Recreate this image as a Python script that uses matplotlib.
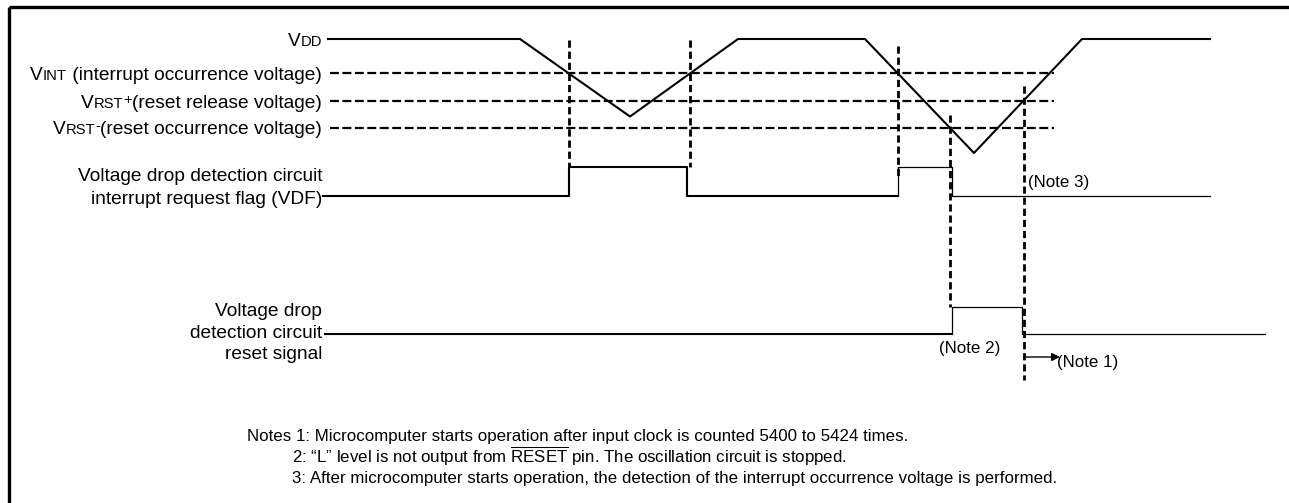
import numpy as np
import matplotlib
matplotlib.use('Agg')
import matplotlib.pyplot as plt

plt.rcParams['font.family'] = ['Liberation Sans', 'DejaVu Sans']
plt.rcParams['mathtext.fontset'] = 'custom'
plt.rcParams['mathtext.rm'] = 'Liberation Sans'

# supply voltage (V) against time (arbitrary ticks)
vdd_t = [328, 520, 630, 738, 865, 974, 1082, 1210]
vdd_v = [5.0, 5.0, 1.6, 5.0, 5.0, 0.0, 5.0, 5.0]
VDD, VINT, VRST_P, VRST_M = 5.0, 3.5, 2.3, 1.1

# interrupt flag (VDF) and reset signal, 0 = low, 1 = high
vdf_t = [323, 569, 569, 687, 687, 898]
vdf_l = [0, 0, 1, 1, 0, 0]
vdf2_t = [898, 898, 952, 952, 1210]
vdf2_l = [0, 1, 1, 0, 0]
rst_t = [325, 952, 952, 1022, 1022, 1265]
rst_l = [0, 0, 1, 1, 0, 0]

notes = [
    'Notes 1: Microcomputer starts operation after input clock is counted 5400 to 5424 times.',
    '2: \u201cL\u201d level is not output from $\\overline{\\mathrm{RESET}}$ pin. The oscillation circuit is stopped.',
    '3: After microcomputer starts operation, the detection of the interrupt occurrence voltage is performed.',
]

# layout (pixel space)
y_vdd, v_scale = 39, 22.8
vdf_low, vdf_high = 196, 167
rst_low, rst_high = 334, 307


def vy(v):
    return y_vdd + (VDD - np.asarray(v)) * v_scale


def crossing(level, t0, t1):
    # time where the VDD trace crosses level between t0 and t1
    ts = np.linspace(t0, t1, 2000)
    vs = np.interp(ts, vdd_t, vdd_v)
    return ts[np.argmin(np.abs(vs - level))]


fig = plt.figure(figsize=(12.89, 5.03), dpi=100)
ax = fig.add_axes([0, 0, 1, 1])
ax.set_xlim(0, 1289)
ax.set_ylim(503, 0)
ax.axis('off')

# frame (top and left only)
ax.plot([8.5, 1289], [7, 7], color='black', lw=2.4, solid_capstyle='butt')
ax.plot([8.5, 8.5], [7, 503], color='black', lw=2.4, solid_capstyle='butt')

# VDD trace
ax.plot(vdd_t, vy(vdd_v), color='black', lw=1.5)

# threshold levels
for lev in [VINT, VRST_P, VRST_M]:
    ax.plot([330, 1054], [vy(lev), vy(lev)], color='black', lw=1.6,
            dashes=(4, 1.6))

# event times
t1 = crossing(VINT, 520, 630)
t2 = crossing(VINT, 630, 738)
t3 = crossing(VINT, 865, 974)
t4 = crossing(VRST_M, 865, 974)
t5 = crossing(VRST_P, 974, 1082)

vd = dict(color='black', lw=2.0, dashes=(2.6, 1.4))
ax.plot([t1, t1], [40, vdf_high], **vd)
ax.plot([t2, t2], [40, vdf_high], **vd)
ax.plot([t3, t3], [46, 177], **vd)
ax.plot([t4, t4], [115, rst_high], **vd)
ax.plot([t5, t5], [86, 380], **vd)

# VDF and reset signal
lvl = lambda l, lo, hi: [lo + (hi - lo) * x for x in l]
ax.plot(vdf_t, lvl(vdf_l, vdf_low, vdf_high), color='black', lw=1.5)
ax.plot(vdf2_t, lvl(vdf2_l, vdf_low, vdf_high), color='black', lw=0.9)
ax.plot(rst_t[:2], lvl(rst_l[:2], rst_low, rst_high), color='black', lw=1.5)
ax.plot(rst_t[1:], lvl(rst_l[1:], rst_low, rst_high), color='black', lw=0.9)

# labels
fs = 13.8
sm = 10.6


def chain_label(x, yb, pieces):
    prev = None
    for txt, size, rise in reversed(pieces):
        if prev is None:
            prev = ax.text(x, yb - rise, txt, ha='right', va='baseline', fontsize=size)
        else:
            prev = ax.annotate(txt, xy=(0, yb - rise), xycoords=(prev, 'data'),
                               ha='right', va='baseline', fontsize=size)


chain_label(322, 45.5, [('V', fs, 0), ('DD', sm, 0)])
chain_label(322, 79.5, [('V', fs, 0), ('INT', sm, 0), (' (interrupt occurrence voltage)', fs, 0)])
chain_label(322, 107.5, [('V', fs, 0), ('RST', sm, 0), ('+', sm, 4), ('(reset release voltage)', fs, 0)])
chain_label(322, 134.5, [('V', fs, 0), ('RST', sm, 0), ('-', sm, 4), ('(reset occurrence voltage)', fs, 0)])

ax.text(322, 188, 'Voltage drop detection circuit\ninterrupt request flag (VDF)',
        ha='right', va='center', fontsize=fs, linespacing=1.42, multialignment='right')
ax.text(322, 333, 'Voltage drop\ndetection circuit\nreset signal',
        ha='right', va='center', fontsize=fs, linespacing=1.36, multialignment='right')

nfs = 12.2
ax.text(1028, 183, '(Note 3)', ha='left', va='center', fontsize=nfs)
ax.text(970, 349, '(Note 2)', ha='center', va='center', fontsize=nfs)
ax.text(1057, 363, '(Note 1)', ha='left', va='center', fontsize=nfs)
ax.annotate('', xy=(1060, 357), xytext=(t5, 357),
            arrowprops=dict(arrowstyle='-|>', color='black', lw=1.0,
                            mutation_scale=12, shrinkA=0, shrinkB=0))

ax.text(247, 441.5, notes[0], ha='left', va='baseline', fontsize=nfs)
ax.text(292, 462.5, notes[1], ha='left', va='baseline', fontsize=nfs)
ax.text(292, 482.5, notes[2], ha='left', va='baseline', fontsize=nfs)

fig.savefig('out.png', dpi=100)
